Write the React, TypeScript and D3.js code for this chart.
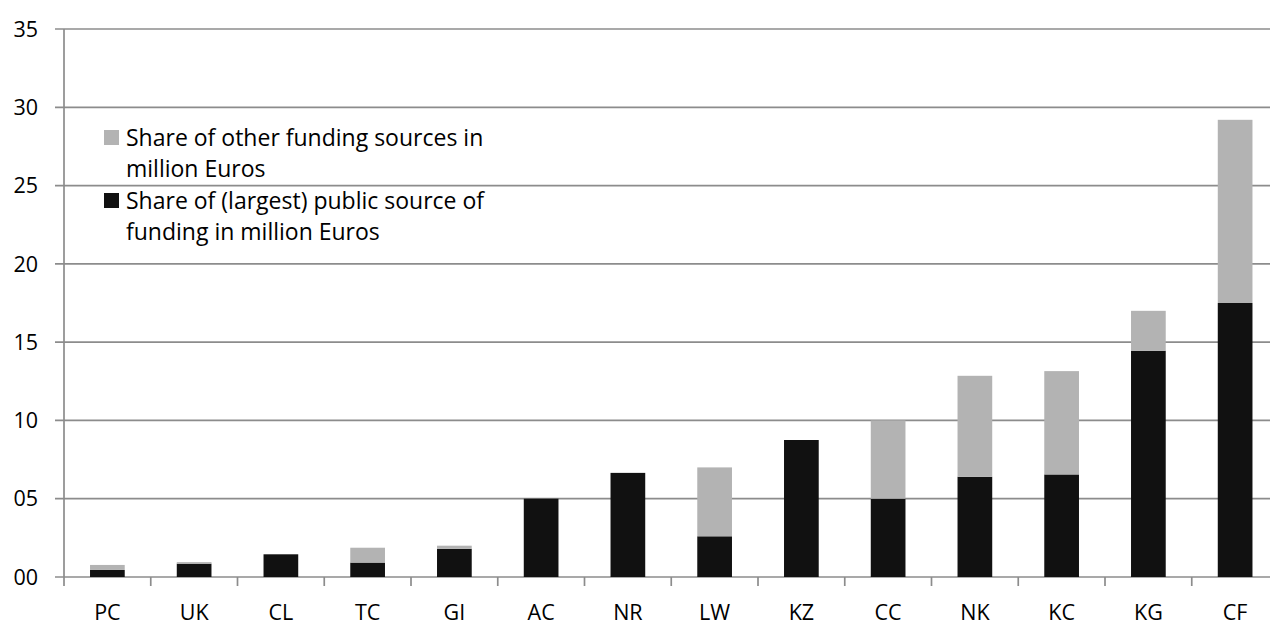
import * as d3 from "d3";

const CATEGORIES = ["PC", "UK", "CL", "TC", "GI", "AC", "NR", "LW", "KZ", "CC", "NK", "KC", "KG", "CF"];
const PUBLIC_SHARE = [0.45, 0.85, 1.45, 0.92, 1.8, 5.0, 6.65, 2.6, 8.75, 5.0, 6.4, 6.55, 14.45, 17.5];
const OTHER_SHARE = [0.32, 0.1, 0, 0.95, 0.2, 0, 0, 4.4, 0, 5.0, 6.45, 6.6, 2.55, 11.7];
const Y_TICKS = [0, 5, 10, 15, 20, 25, 30, 35];
const LEGEND_LABELS = [
  ["Share of other funding sources in", "million Euros"],
  ["Share of (largest) public source of", "funding in million Euros"],
];

const W = 1270, H = 628;
const BLACK = "#111111";
const GREY = "#b3b3b3";
const GRID = "#8c8c8c";
const FONT = "'Open Sans', sans-serif";
const FS = 21.5;
const FS_LEGEND = 23;

export default function App() {
  const x0 = 64, x1 = 64 + 14 * 86.75;
  const yTop = 29, yBot = 577;
  const xS = d3.scaleBand<string>().domain(CATEGORIES).range([x0, x1]).paddingInner(0.6).paddingOuter(0.3);
  const yS = d3.scaleLinear().domain([0, 35]).range([yBot, yTop]);
  const fmt = d3.format("02d");
  const step = xS.step();
  // band edges for the x ticks
  const edges = d3.range(CATEGORIES.length + 1).map(i => x0 + i * step);

  const legendColors = [GREY, BLACK];
  const legendBase = [146, 209];

  return (
    <div style={{ position: "fixed", left: 0, top: 0 }}>
      <svg width={W} height={H} style={{ display: "block", background: "white" }} fontFamily={FONT}>
        {/* gridlines */}
        {Y_TICKS.map(t => (
          <g key={t}>
            <line x1={x0 - 9} x2={x1} y1={yS(t)} y2={yS(t)} stroke={GRID} strokeWidth={1.7} />
            <text x={38} y={yS(t)} dy="0.36em" textAnchor="end" fontSize={FS} fill="#000">{fmt(t)}</text>
          </g>
        ))}
        {/* y axis */}
        <line x1={x0} x2={x0} y1={yTop} y2={yBot} stroke={GRID} strokeWidth={1.7} />
        {/* x ticks */}
        {edges.map((e, i) => (
          <line key={i} x1={e} x2={e} y1={yBot} y2={yBot + 9} stroke={GRID} strokeWidth={1.7} />
        ))}
        {/* bars */}
        {CATEGORIES.map((c, i) => {
          const bx = xS(c)!;
          const bw = xS.bandwidth();
          const p = PUBLIC_SHARE[i];
          const o = OTHER_SHARE[i];
          return (
            <g key={c}>
              <rect x={bx} y={yS(p)} width={bw} height={yS(0) - yS(p)} fill={BLACK} />
              {o > 0 && <rect x={bx} y={yS(p + o)} width={bw} height={yS(p) - yS(p + o)} fill={GREY} />}
              <text x={bx + bw / 2} y={620} textAnchor="middle" fontSize={FS} fill="#000">{c}</text>
            </g>
          );
        })}
        {/* legend */}
        {LEGEND_LABELS.map((lines, i) => {
          const base = legendBase[i];
          return (
            <g key={i}>
              <rect x={104} y={base - 16} width={15} height={15} fill={legendColors[i]} />
              {lines.map((l, j) => (
                <text key={j} x={126} y={base + j * 31} fontSize={FS_LEGEND} fill="#000">{l}</text>
              ))}
            </g>
          );
        })}
      </svg>
    </div>
  );
}
